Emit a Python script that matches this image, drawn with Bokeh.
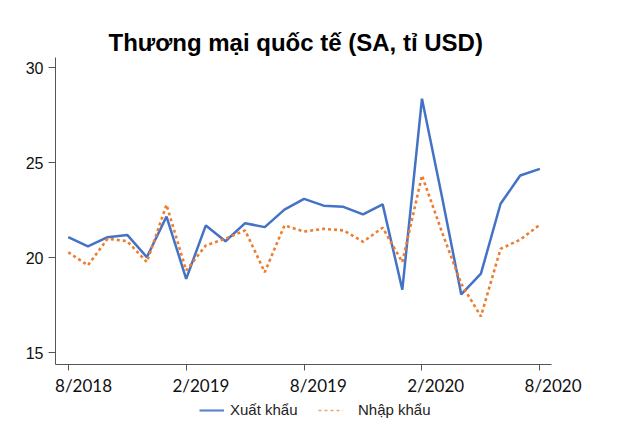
from bokeh.plotting import figure
from bokeh.layouts import column
from bokeh.models import FixedTicker, Legend, LegendItem, Range1d, LinearAxis
from bokeh.embed import file_html
from bokeh.resources import INLINE

months = ["8/2018", "9/2018", "10/2018", "11/2018", "12/2018", "1/2019", "2/2019",
          "3/2019", "4/2019", "5/2019", "6/2019", "7/2019", "8/2019", "9/2019",
          "10/2019", "11/2019", "12/2019", "1/2020", "2/2020", "3/2020", "4/2020",
          "5/2020", "6/2020", "7/2020", "8/2020"]
exports = [21.08, 20.6, 21.08, 21.2, 20.03, 22.17, 18.89, 21.7, 20.87, 21.82, 21.61,
           22.53, 23.1, 22.74, 22.68, 22.28, 22.81, 18.32, 28.37, 23.3, 18.07, 19.16,
           22.84, 24.33, 24.68]
imports = [20.29, 19.6, 21.0, 20.87, 19.77, 22.79, 19.33, 20.65, 21.0, 21.44, 19.24,
           21.7, 21.38, 21.52, 21.44, 20.84, 21.58, 19.77, 24.33, 21.4, 18.63, 16.91,
           20.47, 20.95, 21.74]
tick_idx = [0, 6, 12, 18, 24]
y_ticks = [15, 20, 25, 30]
title_text = "Thương mại quốc tế (SA, tỉ USD)"
series_names = ["Xuất khẩu", "Nhập khẩu"]

BLUE = "#4472C4"
ORANGE = "#ED7D31"

# layout geometry (pixels)
FRAME_W, FRAME_H = 545, 307
PX_PER_MONTH = 19.65
X0 = -0.65
X_AXIS_END = 24.59
X1 = X0 + FRAME_W / PX_PER_MONTH
# tick labels in the original sit a little right of their ticks
LAB_PX_PER_MONTH = 19.5625
LAB_OFFSET_PX = 15.3
L0 = X0 - LAB_OFFSET_PX / LAB_PX_PER_MONTH
L1 = L0 + FRAME_W / LAB_PX_PER_MONTH

x = list(range(len(months)))

p = figure(frame_width=FRAME_W, frame_height=FRAME_H, output_backend="svg",
           toolbar_location=None,
           x_range=Range1d(X0, X1), y_range=Range1d(14.38, 30.54),
           min_border_left=55, min_border_right=19, min_border_top=57,
           min_border_bottom=36)
p.extra_x_ranges = {"lab": Range1d(L0, L1)}
p.outline_line_color = None
p.grid.visible = False
p.background_fill_color = "white"
p.border_fill_color = "white"

p.title.text = title_text
p.title.align = "left"
p.title.offset = 53
p.title.text_font = "Liberation Sans"
p.title.text_font_style = "bold"
p.title.text_font_size = "24px"
p.title.text_color = "#000000"
p.title.standoff = 4

p.line(x, exports, line_color=BLUE, line_width=2.5)
p.line(x, imports, line_color=ORANGE, line_width=2.6, line_dash="3 3")

for ax in (p.xaxis[0], p.yaxis[0]):
    ax.axis_line_color = "#555555"
    ax.axis_line_width = 1
    ax.major_tick_line_color = "#555555"
    ax.minor_tick_line_color = None
    ax.major_tick_in = 0
    ax.major_label_text_color = "#111111"
    ax.major_label_text_font_size = "16px"

# x axis: line and ticks only
xa = p.xaxis[0]
xa.bounds = (X0, X_AXIS_END)
xa.ticker = FixedTicker(ticks=tick_idx)
xa.major_label_overrides = {i: "" for i in tick_idx}
xa.major_tick_out = 6
xa.major_label_standoff = 0
xa.major_label_text_font_size = "1px"

# label-only axis on a slightly shifted range
xl = LinearAxis(x_range_name="lab", ticker=FixedTicker(ticks=tick_idx),
                major_label_overrides={i: months[i] for i in tick_idx},
                axis_line_color=None, major_tick_line_color=None,
                minor_tick_line_color=None, major_tick_in=0, major_tick_out=0,
                major_label_standoff=4, major_label_text_font="Lato",
                major_label_text_font_size="17px", major_label_text_color="#111111")
p.add_layout(xl, "below")

ya = p.yaxis[0]
ya.ticker = FixedTicker(ticks=y_ticks)
ya.major_tick_out = 7
ya.major_label_text_font = "Liberation Sans"
ya.major_label_standoff = 5

# Legend strip below the chart
nan = float("nan")
lg = figure(width=619, height=35, output_backend="svg", toolbar_location=None,
            x_range=Range1d(0, 1), y_range=Range1d(0, 1),
            x_axis_type=None, y_axis_type=None, min_border=0)
lg.outline_line_color = None
lg.grid.visible = False
d1 = lg.line([nan], [nan], line_color=BLUE, line_width=2.2, line_alpha=0.85)
d2 = lg.line([nan], [nan], line_color=ORANGE, line_width=1.5, line_dash="3 3",
             line_alpha=0.7)
common = dict(orientation="horizontal", background_fill_alpha=0,
              border_line_color=None, padding=0, margin=0, glyph_width=25,
              glyph_height=14, label_text_font="Liberation Sans",
              label_text_font_size="15px", label_text_color="#222222")
leg1 = Legend(items=[LegendItem(label=series_names[0], renderers=[d1])],
              location=(144, 17), label_standoff=6, **common)
leg2 = Legend(items=[LegendItem(label=series_names[1], renderers=[d2])],
              location=(263, 17), label_standoff=15, **common)
lg.add_layout(leg1, "center")
lg.add_layout(leg2, "center")

layout = column(p, lg, spacing=0)
open("out.html", "w").write(file_html(layout, INLINE))
